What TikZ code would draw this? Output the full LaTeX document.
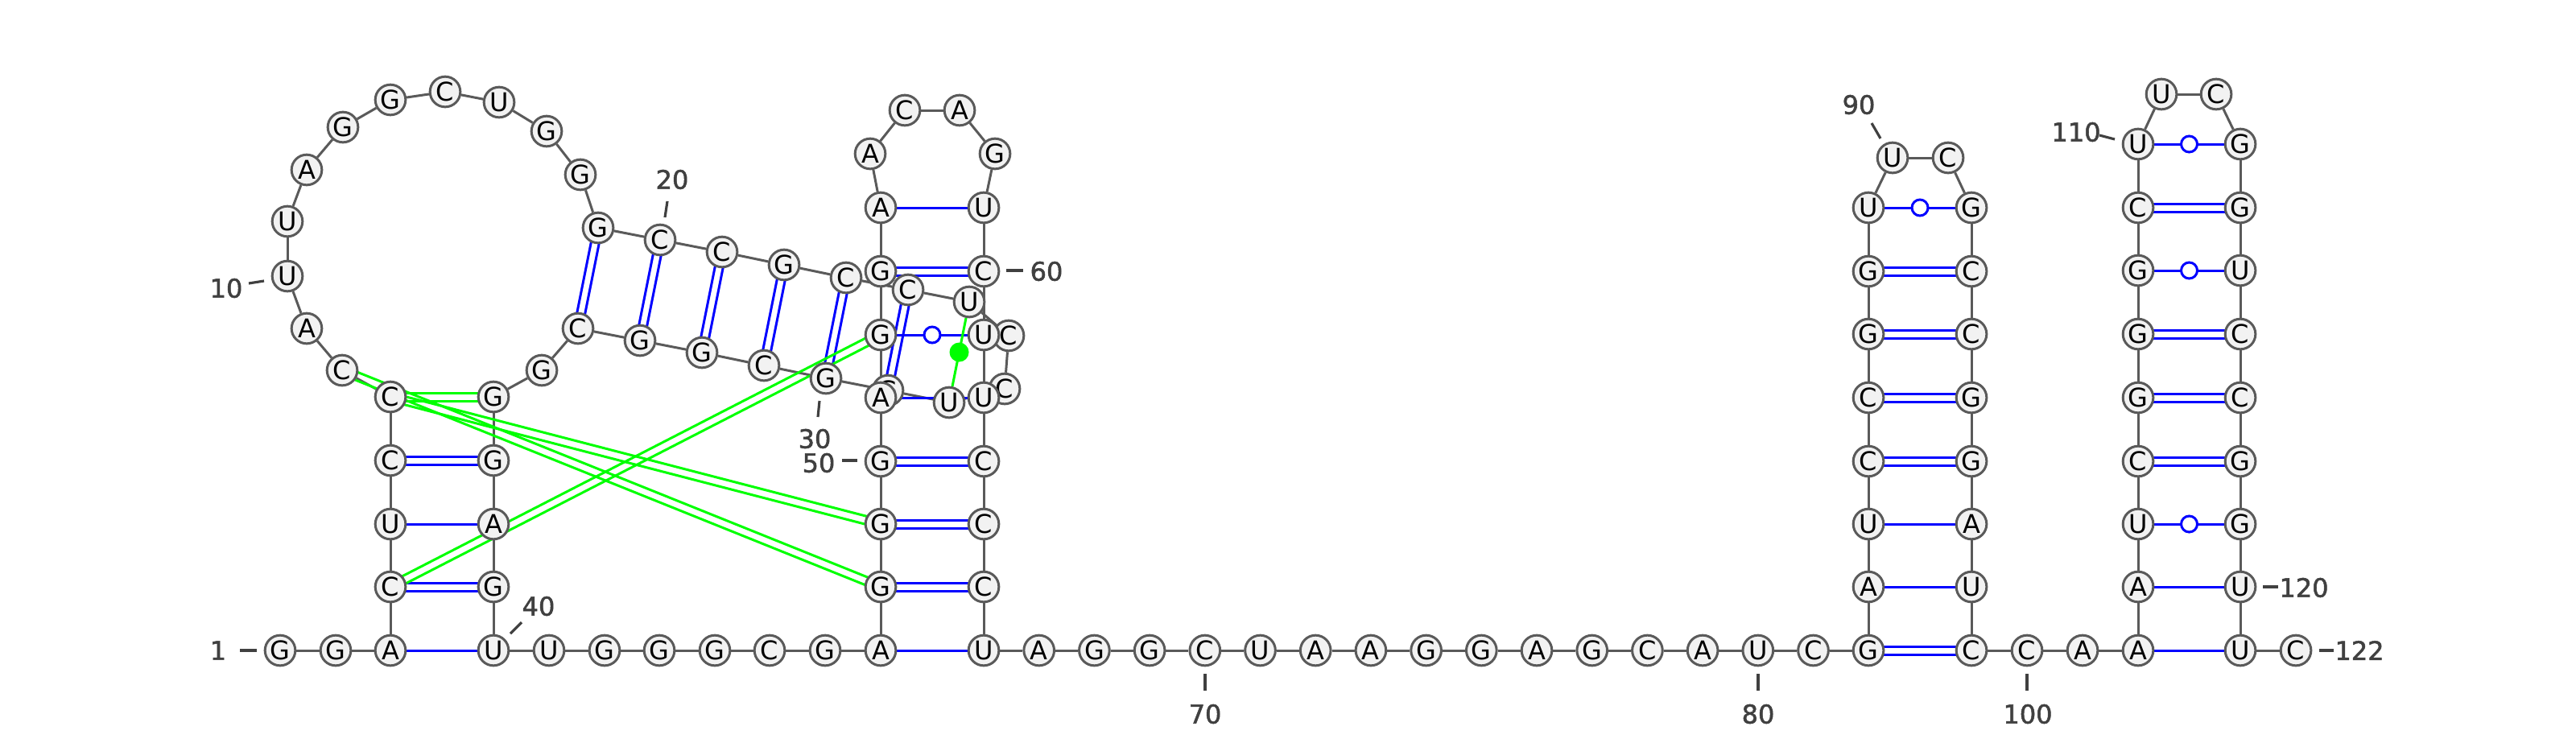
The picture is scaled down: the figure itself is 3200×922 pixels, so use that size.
\documentclass[tikz,border=0pt]{standalone}
\usepackage{fontspec}
\setmainfont{DejaVu Sans}
\newfontfamily\lblfont[FakeBold=1.6]{DejaVu Sans}
\usetikzlibrary{calc}
\definecolor{ntgray}{RGB}{90,90,90}
\definecolor{ntfill}{RGB}{242,242,242}
\definecolor{lblgray}{RGB}{64,64,64}
\definecolor{pblue}{RGB}{0,0,255}
\definecolor{pgreen}{RGB}{0,255,0}
\pgfdeclarelayer{bg}
\pgfsetlayers{bg,main}
\newcommand\dpair[3]{%
 \draw[#1] ($(n#2)!1.5pt!90:(n#3)$) -- ($(n#3)!1.5pt!-90:(n#2)$);
 \draw[#1] ($(n#2)!1.5pt!-90:(n#3)$) -- ($(n#3)!1.5pt!90:(n#2)$);}
\begin{document}
\begin{tikzpicture}[x=0.3pt,y=-0.3pt,
 nt/.style={circle,draw=ntgray,fill=ntfill,line width=0.9pt,minimum size=11.3pt,inner sep=0pt,font=\fontsize{9.6}{9.6}\selectfont},
 bb/.style={draw=ntgray,line width=0.9pt},
 pb/.style={draw=pblue,line width=0.9pt},
 pg/.style={draw=pgreen,line width=0.9pt},
 wob/.style={circle,draw=pblue,fill=white,line width=0.9pt,minimum size=6pt,inner sep=0pt},
 gdot/.style={circle,fill=pgreen,minimum size=7.2pt,inner sep=0pt},
 lbl/.style={font=\lblfont\fontsize{9.6}{10}\selectfont,text=lblgray,inner sep=0pt},
 tck/.style={draw=lblgray,line width=0.95pt}]
\useasboundingbox (0,0) rectangle (3200,922);
% nucleotides
\foreach \i/\px/\py/\l in {
1/348/808/G, 2/417/808/G, 3/485/808/A, 4/485/729/C, 5/485/651/U, 6/485/572/C, 7/485/493/C,
8/425/460/C, 9/381/408/A, 10/357/343/U, 11/357/275/U, 12/381/211/A, 13/426/158/G, 14/485/124/G,
15/553/114/C, 16/620/127/U, 17/679/163/G, 18/721/217/G, 19/743/283/G, 20/820/298/C, 21/897/313/C,
22/974/329/G, 23/1051/345/C, 25/1204/375/U, 26/1253/417/C, 27/1248/483/C, 28/1179/500/U,
29/1103/485/G, 30/1026/470/G, 31/949/454/C, 32/872/438/G, 33/795/423/G, 34/718/408/C, 35/673/460/G,
36/613/493/G, 37/613/572/G, 38/613/651/A, 39/613/729/G, 40/613/808/U, 41/682/808/U, 42/751/808/G,
43/819/808/G, 44/888/808/G, 45/956/808/C, 46/1025/808/G, 47/1094/808/A, 48/1094/729/G, 49/1094/651/G,
50/1094/573/G, 51/1094/494/A, 52/1094/416/G, 53/1094/337/G, 54/1094/258/A, 55/1081/191/A,
56/1124/137/C, 57/1192/137/A, 58/1236/191/G, 59/1222/258/U, 60/1222/337/C, 61/1222/416/U,
62/1222/494/U, 63/1222/573/C, 64/1222/651/C, 65/1222/729/C, 66/1222/808/U,
67/1290.7/808/A, 68/1359.4/808/G, 69/1428.1/808/G, 70/1496.8/808/C, 71/1565.5/808/U, 72/1634.2/808/A,
73/1702.9/808/A, 74/1771.6/808/G, 75/1840.3/808/G, 76/1909/808/A, 77/1977.7/808/G, 78/2046.4/808/C,
79/2115.1/808/A, 80/2183.8/808/U, 81/2252.5/808/C, 82/2321/808/G,
83/2321/729/A, 84/2321/651/U, 85/2321/573/C, 86/2321/494/C, 87/2321/415/G, 88/2321/337/G, 89/2321/258/U,
90/2351/196/U, 91/2420/196/C, 92/2449/258/G, 93/2449/337/C, 94/2449/415/C, 95/2449/494/G, 96/2449/573/G,
97/2449/651/A, 98/2449/729/U, 99/2449/808/C, 100/2518/808/C, 101/2587/808/A, 102/2656/808/A,
103/2656/729/A, 104/2656/651/U, 105/2656/573/C, 106/2656/494/G, 107/2656/415/G, 108/2656/336/G,
109/2656/258/C, 110/2656/179/U, 111/2685/117/U, 112/2753/117/C, 113/2783/179/G, 114/2783/258/G,
115/2783/336/U, 116/2783/415/C, 117/2783/494/C, 118/2783/573/G, 119/2783/651/G, 120/2783/729/U,
121/2783/808/U, 122/2852/808/C, 24/1128/360/C}
{\node[nt] (n\i) at (\px,\py) {\l};}
% labels
\node[lbl] (l1) at (271,808) {1};
\node[lbl] (l10) at (281,358) {10};
\node[lbl] (l20) at (835,223) {20};
\node[lbl] (l30) at (1012,545) {30};
\node[lbl] (l40) at (669,753) {40};
\node[lbl] (l50) at (1017,575) {50};
\node[lbl] (l60) at (1300,337) {60};
\node[lbl] (l70) at (1497,887) {70};
\node[lbl] (l80) at (2184,887) {80};
\node[lbl] (l90) at (2309,130) {90};
\node[lbl] (l100) at (2519,887) {100};
\node[lbl] (l110) at (2579,164) {110};
\node[lbl] (l120) at (2862,730) {120};
\node[lbl] (l122) at (2931,808) {122};
\foreach \k/\ax/\ay/\bx/\by in {1/298/808/319/808, 10/309/352/328/349, 20/829/250/826/270,
 30/1018/498/1016/518, 40/634/787/648/773, 50/1046/572/1065/572, 60/1250/336/1271/336,
 70/1497/837/1497/858, 80/2184/837/2184/858, 100/2518/837/2518/858, 90/2325/153/2336/172,
 110/2608/168/2627/173, 120/2811/729/2830/729, 122/2881/808/2899/808}
{\coordinate (ta\k) at (\ax,\ay); \coordinate (tb\k) at (\bx,\by); \draw[tck] (ta\k) -- (tb\k);}
\begin{pgfonlayer}{bg}
\fill[white] (0,0) rectangle (3200,922);
% backbone
\foreach \i [count=\j from 2] in {1,...,121} {\draw[bb] (n\i) -- (n\j);}
% canonical single pairs
\foreach \a/\b in {3/40,5/38,47/66,51/62,54/59,83/98,84/97,102/121,103/120}
 {\draw[pb] (n\a) -- (n\b);}
% double pairs
\foreach \a/\b in {4/39,6/37,19/34,20/33,21/32,22/31,23/30,24/29,48/65,49/64,50/63,53/60,
 82/99,85/96,86/95,87/94,88/93,105/118,106/117,107/116,109/114}
 {\dpair{pb}{\a}{\b}}
% wobble pairs
\foreach \a/\b in {52/61,89/92,104/119,108/115,110/113}
 {\draw[pb] (n\a) -- (n\b); \node[wob] (w\a) at ($(n\a)!0.5!(n\b)$) {};}
% tertiary pairs
\foreach \a/\b in {7/36,7/49,8/48,4/52} {\dpair{pg}{\a}{\b}}
\draw[pg] (n25) -- (n28);
\node[gdot] (g25) at ($(n25)!0.5!(n28)$) {};
\end{pgfonlayer}
\end{tikzpicture}
\end{document}
